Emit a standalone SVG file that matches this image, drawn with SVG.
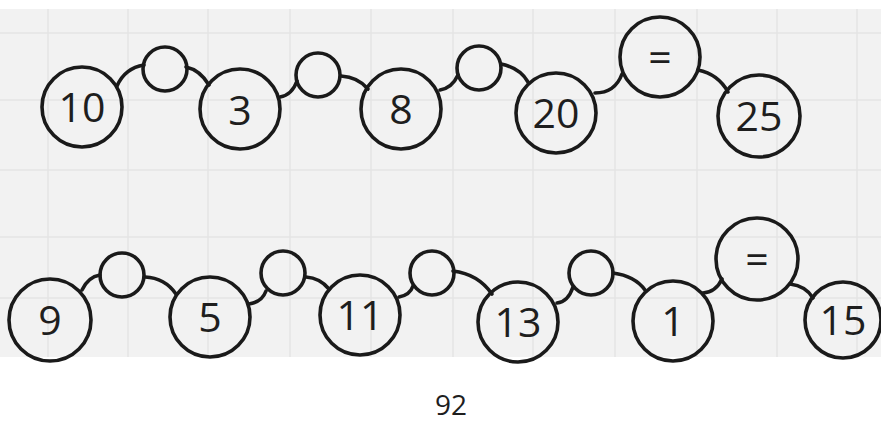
<svg xmlns="http://www.w3.org/2000/svg" width="881" height="423" viewBox="0 0 881 423">
<style>
.n circle{fill:none;stroke:#1a1a1a;stroke-width:3.6}
.n text{font-family:"Open Sans","Noto Sans",sans-serif;font-size:41px;font-weight:500;fill:#1e1e1e;text-anchor:middle}
.c path{fill:none;stroke:#1a1a1a;stroke-width:3.6;stroke-linecap:round}
.g line{stroke:#e5e5e5;stroke-width:1.5}
</style>
<rect width="881" height="423" fill="#ffffff"/>
<rect x="0" y="9" width="881" height="348" fill="#f2f2f2"/>
<g class="g">
<line x1="0" y1="33" x2="881" y2="33"/>
<line x1="0" y1="100" x2="881" y2="100"/>
<line x1="0" y1="170" x2="881" y2="170"/>
<line x1="0" y1="237" x2="881" y2="237"/>
<line x1="0" y1="298" x2="881" y2="298"/>
<line x1="48" y1="9" x2="48" y2="357"/>
<line x1="128" y1="9" x2="128" y2="357"/>
<line x1="208" y1="9" x2="208" y2="357"/>
<line x1="290" y1="9" x2="290" y2="357"/>
<line x1="371" y1="9" x2="371" y2="357"/>
<line x1="453" y1="9" x2="453" y2="357"/>
<line x1="533" y1="9" x2="533" y2="357"/>
<line x1="615" y1="9" x2="615" y2="357"/>
<line x1="697" y1="9" x2="697" y2="357"/>
<line x1="777" y1="9" x2="777" y2="357"/>
<line x1="857" y1="9" x2="857" y2="357"/>
</g>
<g class="c" id="connectors">
<path d="M117,86 Q125,68 144,65"/>
<path d="M186,67 Q200,70 209,85"/>
<path d="M280,97 Q292,95 297,81"/>
<path d="M341,76 Q358,77 368,89"/>
<path d="M440,90 Q452,88 458,75"/>
<path d="M501,64 Q520,68 528,82"/>
<path d="M595,93 Q615,93 622,74"/>
<path d="M698,70 Q718,74 728,92"/>
<path d="M82,290 Q88,277 100,275"/>
<path d="M145,277 Q165,278 176,294"/>
<path d="M249,304 Q262,302 266,291"/>
<path d="M306,277 Q320,278 329,289"/>
<path d="M399,297 Q410,295 413,286"/>
<path d="M453,271 Q478,274 492,294"/>
<path d="M557,303 Q568,302 573,287"/>
<path d="M613,273 Q635,276 645,290"/>
<path d="M703,293 Q716,292 722,279"/>
<path d="M790,284 Q806,286 813,298"/>
</g>
<g class="n" id="n10"><circle cx="82" cy="107" r="40"/><text x="82" y="122">10</text></g>
<g class="n" id="s1"><circle cx="165" cy="69" r="22"/></g>
<g class="n" id="n3"><circle cx="240" cy="109" r="40"/><text x="240" y="125">3</text></g>
<g class="n" id="s2"><circle cx="318" cy="75" r="22"/></g>
<g class="n" id="n8"><circle cx="401" cy="109" r="40"/><text x="401" y="124">8</text></g>
<g class="n" id="s3"><circle cx="479" cy="68" r="22"/></g>
<g class="n" id="n20"><circle cx="556" cy="113" r="40"/><text x="556" y="128">20</text></g>
<g class="n" id="eq1"><circle cx="660" cy="57" r="40"/><text x="660" y="72">=</text></g>
<g class="n" id="n25"><circle cx="759" cy="116" r="41"/><text x="759" y="131">25</text></g>
<g class="n" id="n9"><circle cx="50" cy="320" r="41"/><text x="50" y="335">9</text></g>
<g class="n" id="sa"><circle cx="122" cy="275" r="22"/></g>
<g class="n" id="n5"><circle cx="210" cy="317" r="40"/><text x="210" y="332">5</text></g>
<g class="n" id="sb"><circle cx="283" cy="273" r="22"/></g>
<g class="n" id="n11"><circle cx="360" cy="315" r="40"/><text x="360" y="330">11</text></g>
<g class="n" id="sc"><circle cx="432" cy="273" r="22"/></g>
<g class="n" id="n13"><circle cx="518" cy="322" r="40"/><text x="518" y="337">13</text></g>
<g class="n" id="sd"><circle cx="591" cy="273" r="22"/></g>
<g class="n" id="n1"><circle cx="673" cy="321" r="40"/><text x="673" y="336">1</text></g>
<g class="n" id="eq2"><circle cx="757" cy="259" r="41"/><text x="757" y="274">=</text></g>
<g class="n" id="n15"><circle cx="843" cy="320" r="38"/><text x="843" y="335">15</text></g>
<text x="451" y="415" style="font-family:'Open Sans','Noto Sans',sans-serif;font-size:28px;fill:#1e1e1e;text-anchor:middle">92</text>
</svg>
